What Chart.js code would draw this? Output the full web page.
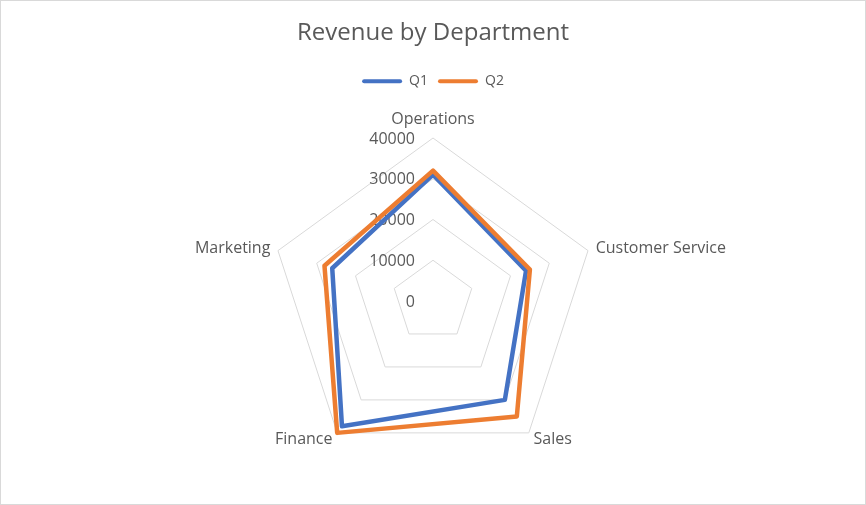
<!DOCTYPE html>
<html>
<head>
<meta charset="utf-8">
<script src="https://cdn.jsdelivr.net/npm/chart.js@4"></script>
<style>
  html, body { margin: 0; padding: 0; background: #ffffff; }
  #wrap { width: 866px; height: 505px; box-sizing: border-box; border: 1px solid #d9d9d9; background: #fff; }
  canvas { display: block; }
</style>
</head>
<body>
<div id="wrap"><canvas id="c" width="864" height="503"></canvas></div>
<script>
const categories = ['Operations', 'Customer Service', 'Sales', 'Finance', 'Marketing'];
const q1Values = [31000, 24000, 30000, 38000, 26000];
const q2Values = [32000, 25000, 35000, 40000, 28000];
const tickValues = [0, 10000, 20000, 30000, 40000];
const tickLabels = ['0', '10000', '20000', '30000', '40000'];

const FONT = '"Open Sans", "Noto Sans", sans-serif';
const TEXT = '#595959';

const radarText = {
  id: 'radarText',
  beforeDatasetsDraw(chart) {
    const s = chart.scales.r, ctx = chart.ctx;
    ctx.save();
    ctx.font = '16px ' + FONT;
    ctx.fillStyle = TEXT;
    ctx.textAlign = 'right';
    ctx.textBaseline = 'middle';
    tickValues.forEach((v, i) => {
      const d = s.getDistanceFromCenterForValue(v);
      ctx.fillText(tickLabels[i], s.xCenter - 18, s.yCenter - d + 1);
    });
    ctx.restore();
  },
  afterDraw(chart) {
    const s = chart.scales.r, ctx = chart.ctx;
    ctx.save();
    ctx.font = '16px ' + FONT;
    ctx.fillStyle = TEXT;
    ctx.textBaseline = 'middle';
    chart.data.labels.forEach((lab, i) => {
      const p = s.getPointPosition(i, s.drawingArea + 8);
      let deg = ((p.angle + Math.PI / 2) * 180 / Math.PI) % 360;
      if (deg < 0) deg += 360;
      let align, y = p.y;
      if (deg < 1 || deg > 359) { align = 'center'; y -= 11; }
      else if (Math.abs(deg - 180) < 1) { align = 'center'; y += 12; }
      else if (deg < 180) align = 'left';
      else align = 'right';
      ctx.textAlign = align;
      ctx.fillText(lab, p.x, y);
    });
    ctx.restore();
  }
};

new Chart(document.getElementById('c'), {
  type: 'radar',
  data: {
    labels: categories,
    datasets: [
      { label: 'Q1', data: q1Values, borderColor: '#4472C4', backgroundColor: '#4472C4',
        borderWidth: 4.5, fill: false, pointRadius: 0, pointHoverRadius: 0, borderJoinStyle: 'round', order: 1 },
      { label: 'Q2', data: q2Values, borderColor: '#ED7D31', backgroundColor: '#ED7D31',
        borderWidth: 4.5, fill: false, pointRadius: 0, pointHoverRadius: 0, borderJoinStyle: 'round', order: 0 }
    ]
  },
  options: {
    responsive: false,
    animation: false,
    layout: { padding: { left: 269, right: 269, top: 0, bottom: 0 } },
    elements: { line: { tension: 0 } },
    scales: {
      r: {
        min: 0, max: 40000,
        ticks: { display: false, stepSize: 10000 },
        pointLabels: { display: false },
        angleLines: { display: false },
        grid: { color: '#d9d9d9', lineWidth: 1 }
      }
    },
    plugins: {
      title: {
        display: true, text: 'Revenue by Department', color: TEXT,
        font: { family: FONT, size: 24, weight: 'normal' },
        padding: { top: 18, bottom: 16.4 }
      },
      legend: {
        display: true, position: 'top',
        labels: {
          color: TEXT, font: { family: FONT, size: 14 },
          boxWidth: 40, boxHeight: 4, padding: 10,
          useBorderRadius: true, borderRadius: 2,
          sort: (a, b) => a.datasetIndex - b.datasetIndex,
          generateLabels(chart) {
            const items = Chart.defaults.plugins.legend.labels.generateLabels(chart);
            items.forEach(it => { it.lineWidth = 0; it.fillStyle = it.strokeStyle; });
            return items;
          }
        }
      },
      tooltip: { enabled: false }
    }
  },
  plugins: [radarText]
});
</script>
</body>
</html>
